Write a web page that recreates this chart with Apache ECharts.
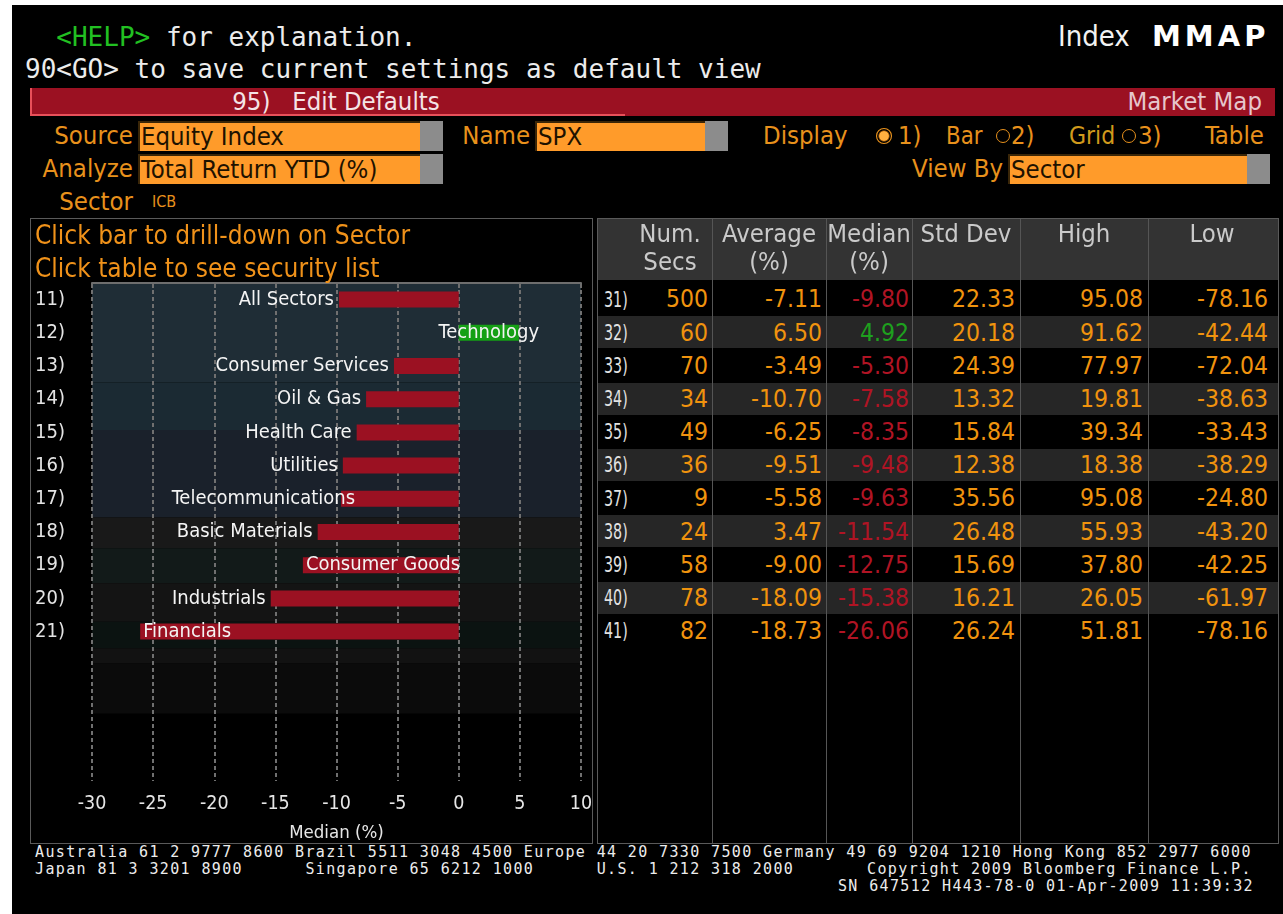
<!DOCTYPE html>
<html>
<head>
<meta charset="utf-8">
<script src="https://cdn.jsdelivr.net/npm/echarts@6/dist/echarts.min.js"></script>
<style>
  html, body { margin: 0; padding: 0; }
  body { position: relative; width: 1283px; height: 914px; overflow: hidden; background: #fff; }
  #screen { position: absolute; left: 12px; top: 5px; width: 1271px; height: 909px; background: #000; }
  .abs { position: absolute; white-space: pre; }
  .mono { font-family: "DejaVu Sans Mono", "Liberation Mono", monospace; }
  .cond { font-family: "DejaVu Sans Condensed", "Liberation Sans Narrow", "Roboto Condensed", "DejaVu Sans", sans-serif; }
  .box { position: absolute; background: #ff9b2a; border-top: 2px solid #3a2608; border-left: 2px solid #3a2608; box-sizing: border-box; }
  .knob { position: absolute; background: #8c8c8c; }
  .panel { position: absolute; border: 1px solid #5a5a5a; box-sizing: border-box; }
  #chart { position: absolute; left: 31px; top: 219px; width: 560px; height: 623px; }
  .vline { position: absolute; width: 1px; background: #555; }
</style>
</head>
<body>
<div id="screen"></div>
<div class="panel" style="left:30px;top:218px;width:563px;height:626px;"></div>
<div class="panel" style="left:597px;top:218px;width:682px;height:626px;"></div>
<div id="chart"></div>
<script>
// chart data (left panel)
const rowNumbers = ["11)", "12)", "13)", "14)", "15)", "16)", "17)", "18)", "19)", "20)", "21)"];
const sectors = ["All Sectors", "Technology", "Consumer Services", "Oil & Gas", "Health Care", "Utilities",
  "Telecommunications", "Basic Materials", "Consumer Goods", "Industrials", "Financials"];
const medians = [-9.80, 4.92, -5.30, -7.58, -8.35, -9.48, -9.63, -11.54, -12.75, -15.38, -26.06];
const emptySlots = [" ", "  ", "   ", "    "];

// table data (right panel)
const tableRowNumbers = ["31)", "32)", "33)", "34)", "35)", "36)", "37)", "38)", "39)", "40)", "41)"];
const numSecs = [500, 60, 70, 34, 49, 36, 9, 24, 58, 78, 82];
const averages = [-7.11, 6.50, -3.49, -10.70, -6.25, -9.51, -5.58, 3.47, -9.00, -18.09, -18.73];
const stdDevs = [22.33, 20.18, 24.39, 13.32, 15.84, 12.38, 35.56, 26.48, 15.69, 16.21, 26.24];
const highs = [95.08, 91.62, 77.97, 19.81, 39.34, 18.38, 95.08, 55.93, 37.80, 26.05, 51.81];
const lows = [-78.16, -42.44, -72.04, -38.63, -33.43, -38.29, -24.80, -43.20, -42.25, -61.97, -78.16];

// background bands, in row units from the top of the plot
const bandEdges = [[0, 3.0], [3.0, 4.43], [4.43, 7.06], [7.06, 7.99], [7.99, 9.04], [9.04, 10.2], [10.2, 11.0], [11.0, 11.46], [11.46, 12.97]];
const bandColors = ["#1f2d36", "#1b2a33", "#1a212b", "#191919", "#121a19", "#141414", "#0b1311", "#121212", "#0b0b0b"];

const COND = '"DejaVu Sans Condensed", "Liberation Sans Narrow", "Roboto Condensed", "DejaVu Sans", sans-serif';
const RED = "#9b1122";
const GREEN = "#15a015";
const ORANGE = "#e8911c";
const NUM_ORANGE = "#f0930e";

// label placement for each bar, matched to the terminal screen
const labelPlacement = {
  "Technology": { position: "inside" },
  "Consumer Goods": { position: "insideLeft", distance: 3 },
  "Financials": { position: "insideLeft", distance: 3 },
  "Telecommunications": { position: "left", distance: -14 },
};

function put(text, x, y, o = {}) {
  const d = document.createElement("div");
  d.className = "abs " + (o.cls || "cond");
  d.textContent = text;
  const size = o.size || 24;
  d.style.fontSize = size + "px";
  d.style.lineHeight = size + "px";
  d.style.top = (y - size / 2) + "px";
  d.style.color = o.color || "#fff";
  if (o.weight) d.style.fontWeight = o.weight;
  if (o.spacing) d.style.letterSpacing = o.spacing + "px";
  if (o.align === "right") d.style.right = (1283 - x) + "px";
  else if (o.align === "center") {
    d.style.left = (x - 200) + "px";
    d.style.width = "400px";
    d.style.textAlign = "center";
  } else d.style.left = x + "px";
  if (o.squeeze) {
    d.style.transform = "scaleX(" + o.squeeze + ")";
    d.style.transformOrigin = "left center";
  }
  document.body.appendChild(d);
  return d;
}

function rect(cls, x, y, w, h, bg) {
  const d = document.createElement("div");
  d.className = cls;
  Object.assign(d.style, { left: x + "px", top: y + "px", width: w + "px", height: h + "px" });
  if (bg) d.style.background = bg;
  document.body.appendChild(d);
  return d;
}

// header lines
const help = put("  ", 25, 37, { cls: "mono", size: 26 });
help.innerHTML = '  <span style="color:#22c022">&lt;HELP&gt;</span> for explanation.';
help.style.color = "#ececec";
put("90<GO> to save current settings as default view", 25, 69, { cls: "mono", size: 26, color: "#ececec" });
put("Index", 1058, 36, { size: 29, color: "#f2f2f2" });
put("MMAP", 1152, 36, { size: 29, weight: "bold", color: "#ffffff", spacing: 4, cls: "mono" }).style.fontFamily = '"DejaVu Sans", Verdana, sans-serif';

// red title bar
rect("abs", 30, 88, 1245, 28, RED);
const btn = rect("abs", 30, 88, 595, 28, RED);
btn.style.borderLeft = "2px solid #e8505a";
btn.style.borderBottom = "2px solid #e8505a";
btn.style.boxSizing = "border-box";
put("95)   Edit Defaults", 336, 102, { align: "center", size: 25.5, color: "#f4e4e6" });
put("Market Map", 1262, 102, { align: "right", size: 25.5, color: "#e6c6cc" });

// settings fields
const FS = 25.5;
function field(label, labelRight, boxX, boxW, y, value) {
  put(label, labelRight, y + 15, { align: "right", size: FS, color: ORANGE });
  rect("box", boxX, y, boxW, 30);
  put(value, boxX + 3, y + 16, { size: FS, color: "#1e1200" });
  rect("knob", boxX + boxW, y, 23, 30);
}
field("Source", 133, 138, 282, 121, "Equity Index");
field("Name", 530, 535, 170, 121, "SPX");
field("Analyze", 133, 138, 282, 154, "Total Return YTD (%)");
field("View By", 1003, 1008, 239, 154, "Sector");
put("Sector", 133, 202, { align: "right", size: FS, color: ORANGE });
put("ICB", 152, 202, { size: 16, color: ORANGE });

put("Display", 763, 136, { size: FS, color: ORANGE });
function radio(cx, cy, on) {
  const r = rect("abs", cx - 7, cy - 7, 14, 14);
  r.style.boxSizing = "border-box";
  r.style.borderRadius = "50%";
  r.style.border = "1.5px solid " + ORANGE;
  if (on) {
    r.style.background = "radial-gradient(circle, #ffb040 0 45%, #c07010 50%, #000 62%)";
    r.style.transform = "scale(1.15)";
  }
}
radio(884, 136, true);
put("1)", 898, 136, { size: FS, color: ORANGE });
put("Bar", 946, 136, { size: FS, color: ORANGE, squeeze: 0.93 });
radio(1003, 136, false);
put("2)", 1011, 136, { size: FS, color: ORANGE });
put("Grid", 1069, 136, { size: FS, color: "#d09a1c", squeeze: 0.96 });
radio(1129, 136, false);
put("3)", 1138, 136, { size: FS, color: ORANGE });
put("Table", 1205, 136, { size: FS, color: ORANGE });

// left panel captions
put("Click bar to drill-down on Sector", 35, 235, { size: 26, color: "#f0921a" });
put("Click table to see security list", 35, 268, { size: 26, color: "#f0921a" });

// right panel table
rect("abs", 598, 219, 680, 61, "#333333");
const colEdges = [597, 712, 826, 912, 1020, 1148, 1278];
colEdges.slice(1, -1).forEach(x => rect("vline", x, 219, 1, 624));
const headers = [["Num.", "Secs"], ["Average", "(%)"], ["Median", "(%)"], ["Std Dev", ""], ["High", ""], ["Low", ""]];
const headerCenters = [670, 769, 869, 966, 1084, 1212];
headers.forEach((h, i) => {
  put(h[0], headerCenters[i], 234, { align: "center", size: 25.5, color: "#cacaca" });
  if (h[1]) put(h[1], headerCenters[i], 262, { align: "center", size: 25.5, color: "#cacaca" });
});
const ROW_TOP = 283, ROW_H = 33.17;
const valueRights = [708, 822, 909, 1015, 1143, 1268];
const fmt = v => v.toFixed(2);
tableRowNumbers.forEach((rn, i) => {
  const top = ROW_TOP + i * ROW_H;
  if (i % 2 === 1) {
    colEdges.slice(0, -1).forEach((x, k) => rect("abs", x + 1, top, colEdges[k + 1] - x - 1, ROW_H - 1, "#262626"));
  }
  const cy = top + ROW_H / 2;
  put(rn, 604, cy, { size: 22, color: "#e2e2e2", squeeze: 0.72 });
  const cells = [String(numSecs[i]), fmt(averages[i]), fmt(medians[i]), fmt(stdDevs[i]), fmt(highs[i]), fmt(lows[i])];
  cells.forEach((c, k) => {
    let color = NUM_ORANGE;
    if (k === 2) color = medians[i] >= 0 ? "#1ea01e" : "#b01424";
    put(c, valueRights[k], cy, { align: "right", size: 24.5, color });
  });
});

// footer
const footerLines = [
  "Australia 61 2 9777 8600 Brazil 5511 3048 4500 Europe 44 20 7330 7500 Germany 49 69 9204 1210 Hong Kong 852 2977 6000",
  "Japan 81 3 3201 8900      Singapore 65 6212 1000      U.S. 1 212 318 2000       Copyright 2009 Bloomberg Finance L.P.",
  "SN 647512 H443-78-0 01-Apr-2009 11:39:32",
];
footerLines.forEach((t, i) => {
  const o = { cls: "mono", size: 15, spacing: 1.37, color: "#ececec" };
  if (i === 2) put(t, 1254, 852 + i * 17, Object.assign(o, { align: "right" }));
  else put(t, 35, 852 + i * 17, o);
});

// chart
const chart = echarts.init(document.getElementById("chart"), null, { renderer: "canvas" });
const X_MIN = -30, X_MAX = 10;

chart.setOption({
  animation: false,
  backgroundColor: "transparent",
  textStyle: { fontFamily: COND },
  grid: { left: 61, right: 10, top: 64, bottom: 61, containLabel: false, outerBoundsMode: "none" },
  xAxis: {
    type: "value",
    min: X_MIN,
    max: X_MAX,
    interval: 5,
    z: 1,
    name: "Median (%)",
    nameLocation: "middle",
    nameGap: 43,
    nameTextStyle: { color: "#e6e6e6", fontSize: 18.5, fontFamily: COND },
    axisLine: { show: true, lineStyle: { color: "#6e6e6e", width: 2 } },
    axisTick: { show: true, length: 5, lineStyle: { color: "#6e6e6e", width: 2 } },
    axisLabel: { color: "#e6e6e6", fontSize: 19.5, margin: 13, fontFamily: COND },
    splitLine: { show: true, showMinLine: true, showMaxLine: true, lineStyle: { color: "#707070", width: 2, type: [4, 3] } },
  },
  yAxis: [
    {
      type: "category",
      inverse: true,
      data: [...rowNumbers, ...emptySlots],
      axisLine: { show: false },
      axisTick: { show: false },
      splitLine: { show: false },
      axisLabel: { align: "left", margin: 57, color: "#e4e4e4", fontSize: 20, fontFamily: COND },
    },
    { type: "value", min: 0, max: rowNumbers.length + emptySlots.length, inverse: true, show: false },
  ],
  series: [
    {
      type: "custom",
      yAxisIndex: 1,
      z: 0,
      silent: true,
      clip: true,
      data: bandEdges.map((b, i) => [b[0], b[1], i]),
      encode: { y: [0, 1] },
      renderItem(params, api) {
        const p0 = api.coord([X_MIN, api.value(0)]);
        const p1 = api.coord([X_MAX, api.value(1)]);
        return {
          type: "rect",
          shape: { x: p0[0], y: p0[1], width: p1[0] - p0[0], height: p1[1] - p0[1] },
          style: { fill: bandColors[api.value(2)] },
        };
      },
    },
    {
      type: "bar",
      z: 2,
      barWidth: 16,
      data: medians.map((v, i) => ({
        value: v,
        name: sectors[i],
        itemStyle: { color: v >= 0 ? GREEN : RED },
        label: Object.assign({ position: "left", distance: 5 }, labelPlacement[sectors[i]] || {}),
      })),
      label: {
        show: true,
        formatter: "{b}",
        color: "#f4f4f4",
        fontSize: 20,
        fontFamily: COND,
      },
      emphasis: { disabled: true },
    },
  ],
});
</script>
</body>
</html>
